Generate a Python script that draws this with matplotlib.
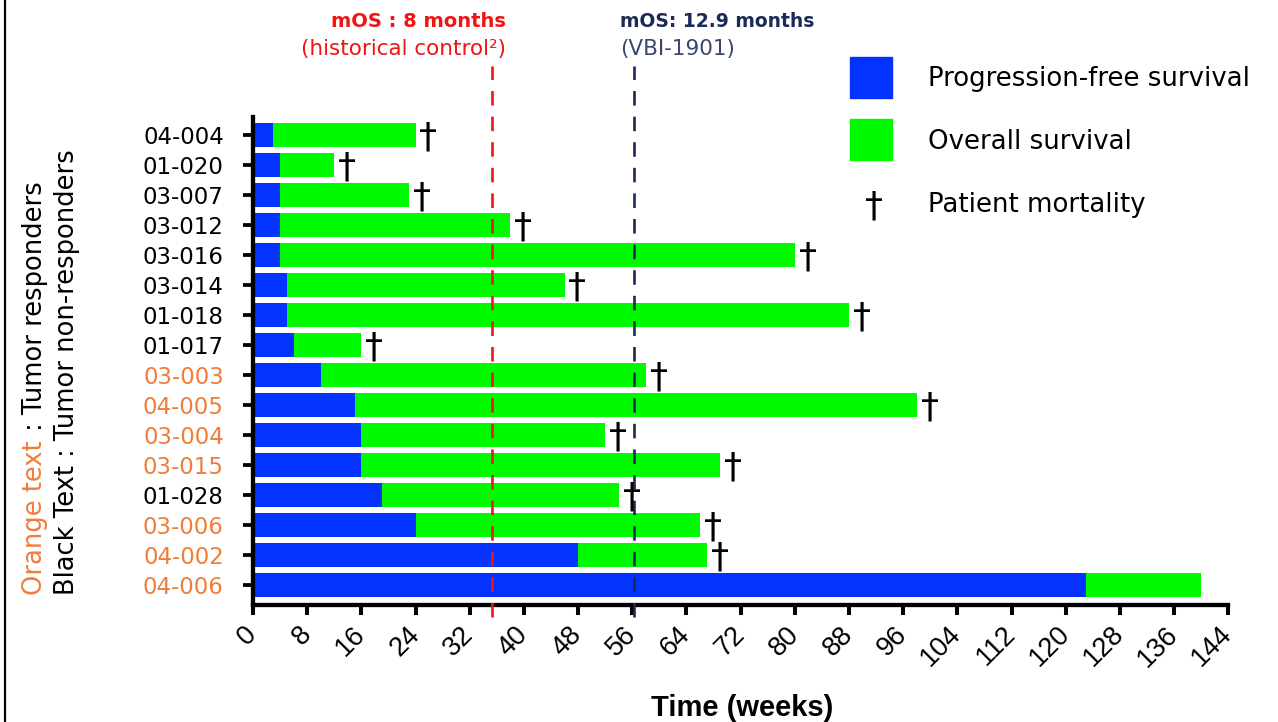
import matplotlib.pyplot as plt
from matplotlib.patches import Rectangle
from matplotlib.lines import Line2D

# data (weeks), listed top to bottom
patients = ['04-004', '01-020', '03-007', '03-012', '03-016', '03-014', '01-018', '01-017',
            '03-003', '04-005', '03-004', '03-015', '01-028', '03-006', '04-002', '04-006']
pfs = [3, 4, 4, 4, 4, 5, 5, 6, 10, 15, 16, 16, 19, 24, 48, 123]
os_weeks = [24, 12, 23, 38, 80, 46, 88, 16, 58, 98, 52, 69, 54, 66, 67, 140]
died = [1, 1, 1, 1, 1, 1, 1, 1, 1, 1, 1, 1, 1, 1, 1, 0]
responder = [0, 0, 0, 0, 0, 0, 0, 0, 1, 1, 1, 1, 0, 1, 1, 1]
mos_control = 35.3
mos_vbi = 56.3
xticks = list(range(0, 145, 8))

BLUE = '#0433ff'
GREEN = '#00fa00'
ORANGE = '#f07d3a'
RED = '#f01414'
NAVY = '#1c2a57'

W, H = 1278, 722
def fx(px): return px / W
def fy(py): return 1 - py / H

plt.rcParams['font.family'] = ['DejaVu Sans']
fig = plt.figure(figsize=(12.78, 7.22), dpi=100)
ax = fig.add_axes([fx(253), fy(605), fx(1228.3) - fx(253), fy(116.7) - fy(605)])

n = len(patients)
ypos = [n - 1 - i for i in range(n)]
ax.barh(ypos, pfs, height=0.8, color=BLUE, zorder=2)
ax.barh(ypos, [o - p for o, p in zip(os_weeks, pfs)], left=pfs, height=0.8, color=GREEN, zorder=2)
for y, o, d in zip(ypos, os_weeks, died):
    if d:
        ax.text(o + 1.9, y - 0.07, '\u2020', ha='center', va='center', fontsize=26,
                color='black', zorder=4)

ax.set_xlim(0, 144)
ax.set_ylim(-0.65, 15.62)
ax.set_xticks(xticks)
ax.set_xticklabels([str(t) for t in xticks], rotation=45, ha='right', va='center',
                   rotation_mode='anchor', fontsize=19.5, family='Liberation Sans')
ax.set_yticks(ypos)
ax.set_yticklabels(patients, fontsize=16.5)
for lab, r in zip(ax.get_yticklabels(), responder):
    lab.set_color(ORANGE if r else 'black')
ax.tick_params(axis='y', length=7, width=2.7, pad=14)
ax.tick_params(axis='x', length=7.3, width=2.9, pad=11)
for s in ['top', 'right']:
    ax.spines[s].set_visible(False)
for s in ['left', 'bottom']:
    ax.spines[s].set_linewidth(3.1)

# median OS reference lines
top = (605 - 66) / (605 - 116.7)
ax.axvline(mos_control, ymin=-0.025, ymax=top, clip_on=False,
           color=RED, lw=1.9, dashes=(5.5, 4.2), zorder=3)
ax.axvline(mos_vbi, ymin=-0.025, ymax=top, clip_on=False,
           color=NAVY, lw=1.9, dashes=(5.5, 4.2), zorder=3)

fig.text(fx(506), fy(27), 'mOS : 8 months', color=RED, fontsize=14, fontweight='bold',
         ha='right', va='baseline')
fig.text(fx(506), fy(55), '(historical control\u00b2)', color=RED, fontsize=15.5,
         ha='right', va='baseline')
fig.text(fx(620), fy(27), 'mOS: 12.9 months', color=NAVY, fontsize=13.5, fontweight='bold',
         ha='left', va='baseline')
fig.text(fx(620), fy(55), '(VBI-1901)', color='#3d4670', fontsize=15.5,
         ha='left', va='baseline')

fig.text(fx(742), fy(708), 'Time (weeks)', fontsize=21, fontweight='bold',
         family='Liberation Sans', ha='center', va='center')

# legend
fig.add_artist(Rectangle((fx(850), fy(98)), fx(41.6), 41.4 / H, color=BLUE, transform=fig.transFigure))
fig.add_artist(Rectangle((fx(850), fy(160)), fx(41.6), 41 / H, color=GREEN, transform=fig.transFigure))
fig.text(fx(873.8), fy(206), '\u2020', fontsize=26, ha='center', va='center')
fig.text(fx(928), fy(86), 'Progression-free survival', fontsize=18.7, ha='left', va='baseline')
fig.text(fx(928), fy(149.4), 'Overall survival', fontsize=18.7, ha='left', va='baseline')
fig.text(fx(928), fy(212), 'Patient mortality', fontsize=18.7, ha='left', va='baseline')

# side notes (rotated)
fig.canvas.draw()
r = fig.canvas.get_renderer()
t1 = fig.text(fx(35), fy(595), 'Orange text', color=ORANGE, fontsize=18.5, rotation=90,
              ha='center', va='bottom')
bb = t1.get_window_extent(r)
fig.text(fx(35), (bb.y1 + 1) / H, ' : Tumor responders', color='black', fontsize=18.5,
         rotation=90, ha='center', va='bottom')
fig.text(fx(67), fy(595), 'Black Text : Tumor non-responders', color='black', fontsize=18.5,
         rotation=90, ha='center', va='bottom')

fig.add_artist(Line2D([fx(5), fx(5)], [0, 1], color='black', lw=1.6, transform=fig.transFigure))

fig.savefig('out.png', dpi=100)
